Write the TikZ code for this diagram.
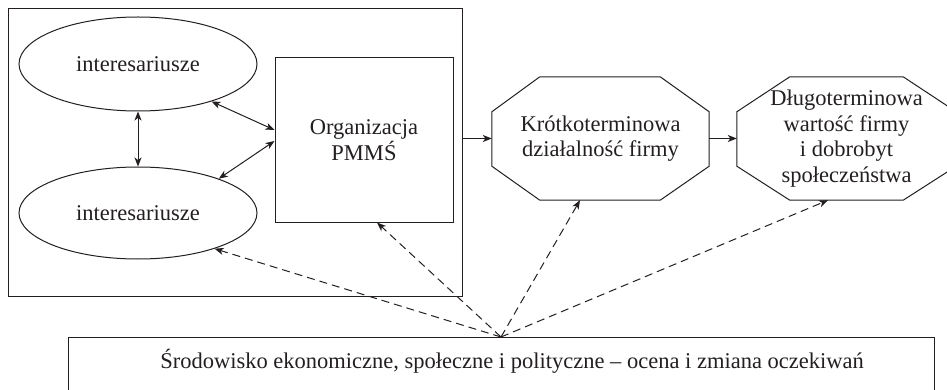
\documentclass[tikz,border=0pt]{standalone}
\usepackage{fontspec}
\setmainfont{Liberation Serif}
\usetikzlibrary{shapes.geometric,arrows.meta,calc}
\definecolor{ink}{HTML}{231F20}
\tikzset{
  txt/.style={inner sep=0pt, text=ink, align=center, font=\fontsize{22.5}{25.5}\selectfont},
  box/.style={txt, draw=ink, line width=1pt},
  ln/.style={draw=ink, line width=1pt},
  tip/.tip={Stealth[length=9pt,width=7pt,inset=2.5pt]},
  arr/.style={ln, -tip},
  darr/.style={ln, tip-tip},
  dsh/.style={ln, -tip, dash pattern=on 8pt off 5pt}
}
\begin{document}
\begin{tikzpicture}[x=1pt,y=-1pt]
\path[use as bounding box] (0,0) rectangle (947,390);
\clip (0,0) rectangle (947,390);
% left block
\node[box, minimum width=454pt, minimum height=287pt] (outer) at (235,152.5) {};
\node[box, ellipse, minimum width=238pt, minimum height=94pt] (e1) at (138,64) {interesariusze};
\node[box, ellipse, minimum width=238pt, minimum height=92pt] (e2) at (138,213) {interesariusze};
\node[box, minimum width=178pt, minimum height=164pt] (sq) at (364,140) {Organizacja\\PMMŚ};
% octagon 1
\node[txt, minimum width=217pt, minimum height=123pt] (o1) at (600.5,138.5) {Krótkoterminowa\\działalność firmy};
\draw[ln] ($(o1.north west)+(48,0)$) -- ($(o1.north east)+(-49,0)$) -- ($(o1.north east)+(0,35)$)
  -- ($(o1.south east)+(0,-34)$) -- ($(o1.south east)+(-49,0)$) -- ($(o1.south west)+(48,0)$)
  -- ($(o1.south west)+(0,-34)$) -- ($(o1.north west)+(0,35)$) -- cycle;
% octagon 2
\node[txt, minimum width=219pt, minimum height=123pt] (o2) at (846.5,138.5) {Długoterminowa\\wartość firmy\\i dobrobyt\\społeczeństwa};
\draw[ln] ($(o2.north west)+(53,0)$) -- ($(o2.north east)+(-53,0)$) -- ($(o2.north east)+(0,35)$)
  -- ($(o2.south east)+(0,-34)$) -- ($(o2.south east)+(-53,0)$) -- ($(o2.south west)+(53,0)$)
  -- ($(o2.south west)+(0,-34)$) -- ($(o2.north west)+(0,35)$) -- cycle;
% environment box
\node[box, minimum width=866pt, minimum height=60pt, anchor=north] (env) at (501,337) {};
\node[txt] (envtext) at (512,361) {Środowisko ekonomiczne, społeczne i polityczne – ocena i zmiana oczekiwań};
% solid connectors
\draw[darr] (e1.south) -- (e2.north);
\draw[darr] (e1.-27) -- ([yshift=10pt]sq.west);
\draw[darr] (e2.23) -- ([yshift=-1pt]sq.west);
\draw[arr] (outer.east |- o1.west) -- (o1.west);
\draw[arr] (o1.east) -- (o2.west);
% dashed connectors
\draw[dsh] (env.north) -- (e2.-25);
\draw[dsh] (env.north) -- ([xshift=13pt]sq.south);
\draw[dsh] (env.north) -- ([xshift=-20.5pt]o1.south);
\draw[dsh] (env.north) -- ([xshift=-18.5pt]o2.south);
\end{tikzpicture}
\end{document}
